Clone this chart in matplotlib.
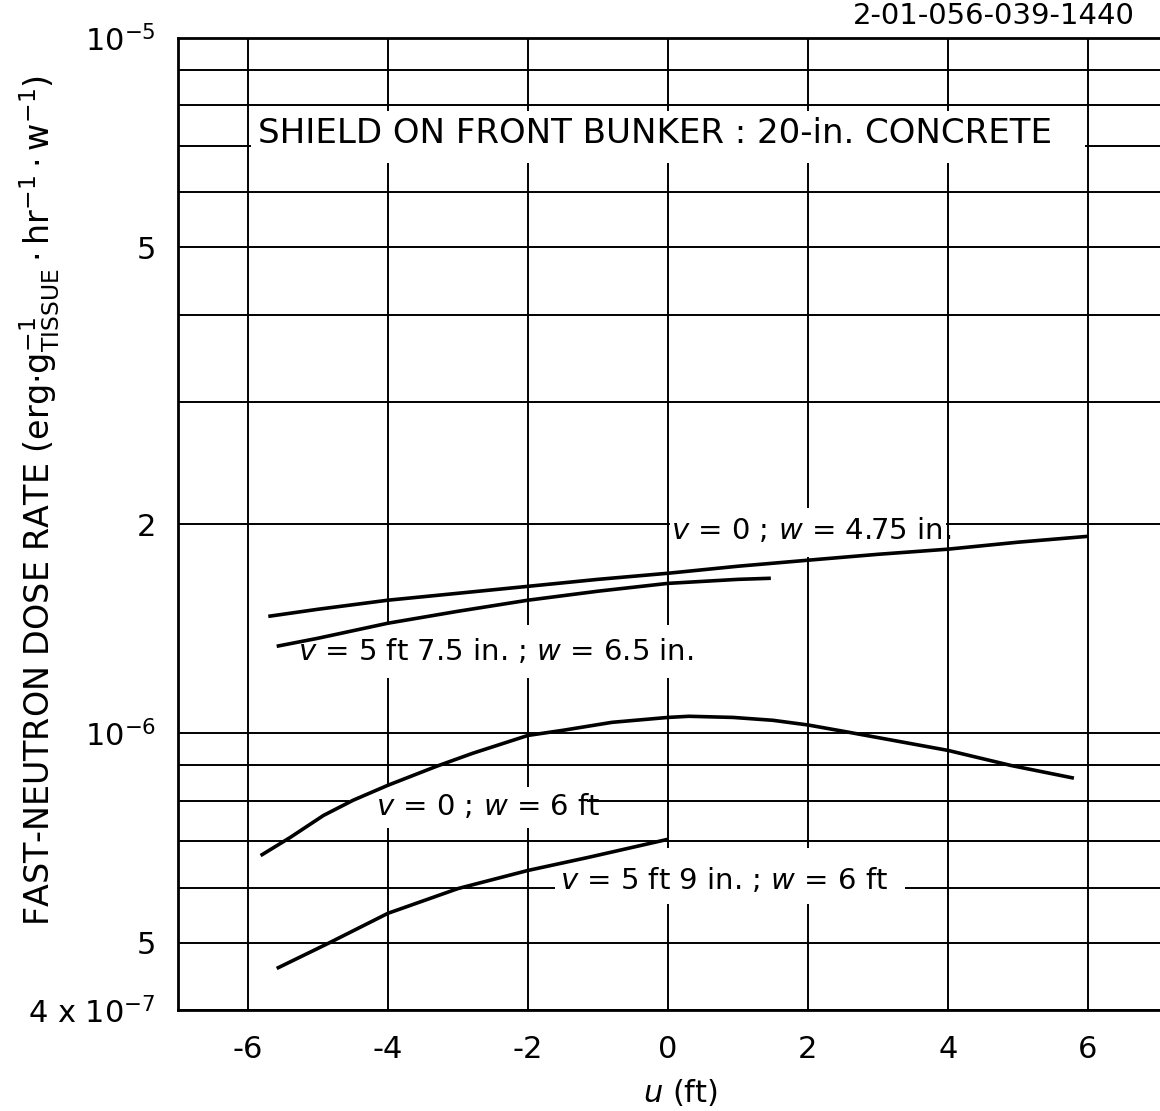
import matplotlib
matplotlib.use("Agg")
import matplotlib.pyplot as plt
from matplotlib.ticker import NullLocator

# curves (u in ft, dose rate in erg/g/hr/w)
u_a = [-5.71, -5, -4, -3, -2, -1, 0, 1, 2, 3, 4, 5, 6]
dose_a = [1.473e-6, 1.508e-6, 1.554e-6, 1.590e-6, 1.627e-6, 1.665e-6, 1.699e-6,
          1.739e-6, 1.774e-6, 1.809e-6, 1.840e-6, 1.883e-6, 1.920e-6]

u_b = [-5.59, -5, -4, -3, -2, -1, 0, 1, 1.47]
dose_b = [1.334e-6, 1.370e-6, 1.440e-6, 1.498e-6, 1.554e-6, 1.601e-6, 1.643e-6,
          1.665e-6, 1.671e-6]

u_c = [-5.82, -5.4, -4.92, -4.5, -4, -3.3, -2.79, -2, -1.5, -0.8, 0, 0.3, 0.93,
       1.5, 2, 2.5, 3.07, 4, 4.9, 5.8]
dose_c = [0.667e-6, 0.708e-6, 0.762e-6, 0.801e-6, 0.842e-6, 0.897e-6, 0.936e-6,
          0.993e-6, 1.010e-6, 1.037e-6, 1.054e-6, 1.058e-6, 1.054e-6, 1.044e-6,
          1.028e-6, 1.007e-6, 0.983e-6, 0.945e-6, 0.899e-6, 0.862e-6]

u_d = [-5.59, -4.85, -4, -3, -2, -1.14, 0]
dose_d = [0.459e-6, 0.499e-6, 0.551e-6, 0.598e-6, 0.635e-6, 0.663e-6, 0.704e-6]

labels = [r"$v$ = 0 ; $w$ = 4.75 in.",
          r"$v$ = 5 ft 7.5 in. ; $w$ = 6.5 in.",
          r"$v$ = 0 ; $w$ = 6 ft",
          r"$v$ = 5 ft 9 in. ; $w$ = 6 ft"]

x_ticks = [-6, -4, -2, 0, 2, 4, 6]
x_ticklabels = ['-6', '-4', '-2', '0', '2', '4', '6']
y_ticks = [4e-7, 5e-7, 6e-7, 7e-7, 8e-7, 9e-7, 1e-6, 2e-6, 3e-6, 4e-6,
           5e-6, 6e-6, 7e-6, 8e-6, 9e-6, 1e-5]
y_ticklabels = ['4 x $10^{-7}$', '5', '', '', '', '', '$10^{-6}$', '2', '', '',
                '5', '', '', '', '', '$10^{-5}$']

title = "SHIELD ON FRONT BUNKER : 20-in. CONCRETE"

plt.rcParams['font.family'] = ['DejaVu Sans']
plt.rcParams['mathtext.fontset'] = 'dejavusans'

fig = plt.figure(figsize=(11.6, 11.11), dpi=100)
ax = fig.add_axes([178 / 1160, 1 - 1010 / 1111, 982 / 1160, 972 / 1111])
ax.set_yscale('log')
ax.set_xlim(-7, 7.03)
ax.set_ylim(4e-7, 1e-5)

ax.set_xticks(x_ticks, x_ticklabels)
ax.set_yticks(y_ticks, y_ticklabels)
ax.yaxis.set_minor_locator(NullLocator())
ax.tick_params(length=0, labelsize=22)
ax.tick_params(axis='x', pad=18)
ax.tick_params(axis='y', pad=16)

ax.set_axisbelow(True)
ax.grid(True, color='black', lw=1.4)
for side in ['left', 'bottom', 'top']:
    ax.spines[side].set_linewidth(2)
ax.spines['right'].set_visible(False)

# white patches where the lettering breaks the grid
boxes = [(-5.96, 5.96, 6.6e-6, 7.85e-6),
         (0.03, 3.97, 1.79e-6, 2.11e-6),
         (-5.35, 0.35, 1.20e-6, 1.43e-6),
         (-4.55, -1.15, 0.732e-6, 0.836e-6),
         (-1.61, 3.39, 0.569e-6, 0.683e-6)]
for x0, x1, y0, y1 in boxes:
    ax.fill([x0, x1, x1, x0], [y0, y0, y1, y1], color='white', lw=0, zorder=1.5)

for u, d in [(u_a, dose_a), (u_b, dose_b), (u_c, dose_c), (u_d, dose_d)]:
    ax.plot(u, d, color='black', lw=2.6, zorder=3, solid_capstyle='butt',
            solid_joinstyle='round')

ax.text(-5.86, 7.3e-6, title, fontsize=24.5, ha='left', va='center', zorder=4)
label_pos = [(0.05, 1.96e-6), (-5.29, 1.31e-6), (-4.17, 0.785e-6), (-1.54, 0.614e-6)]
for (x, y), s in zip(label_pos, labels):
    ax.text(x, y, s, fontsize=21, ha='left', va='center', zorder=4)

fig.text(40 / 1160, 1 - 500 / 1111,
         r"FAST-NEUTRON DOSE RATE (erg$\cdot\mathrm{g}^{-1}_{\mathrm{TISSUE}}\cdot$"
         r"hr$^{-1}\cdot$w$^{-1}$)",
         rotation=90, ha='center', va='center', fontsize=24)
fig.text(680 / 1160, 1 - 1093 / 1111, r"$u$ (ft)", ha='center', va='center', fontsize=22)
fig.text(853 / 1160, 1 - 2 / 1111, "2-01-056-039-1440", ha='left', va='top',
         fontsize=21)

fig.savefig("out.png", dpi=100, facecolor='white')
